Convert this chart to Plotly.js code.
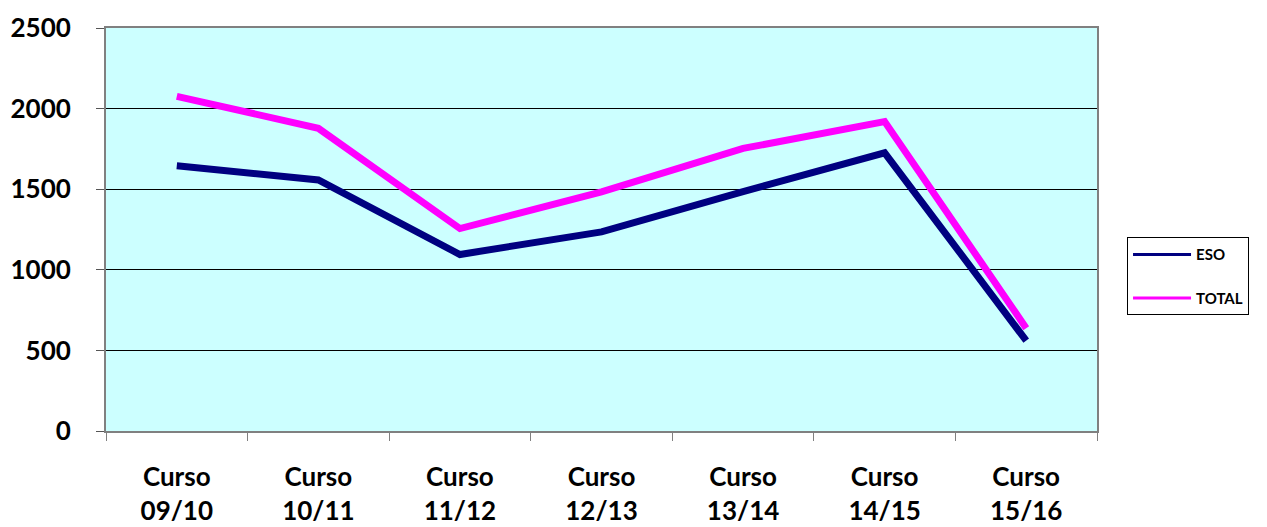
<!DOCTYPE html>
<html>
<head>
<meta charset="utf-8">
<script src="https://cdn.plot.ly/plotly-3.0.1.min.js"></script>
<style>html,body{margin:0;padding:0;background:#fff;}#chart{width:1267px;height:527px;}</style>
</head>
<body>
<div id="chart"></div>
<script>
var categories = ["Curso<br>09/10","Curso<br>10/11","Curso<br>11/12","Curso<br>12/13","Curso<br>13/14","Curso<br>14/15","Curso<br>15/16"];
var eso = [1645, 1557, 1095, 1235, 1485, 1726, 560];
var total = [2076, 1878, 1256, 1484, 1753, 1920, 638];
var yTicks = [0, 500, 1000, 1500, 2000, 2500];

var FONT = "Lato, 'Open Sans', sans-serif";
var traces = [
  {x: categories, y: eso, type: "scatter", mode: "lines", name: "ESO",
   line: {color: "#000080", width: 7}, showlegend: false, hoverinfo: "skip"},
  {x: categories, y: total, type: "scatter", mode: "lines", name: "TOTAL",
   line: {color: "#FF00FF", width: 7}, showlegend: false, hoverinfo: "skip"},
  {x: [categories[0]], y: [null], type: "scatter", mode: "lines", name: "ESO",
   line: {color: "#000080", width: 3}, legendgroup: "a"},
  {x: [categories[0]], y: [null], type: "scatter", mode: "lines", name: "TOTAL",
   line: {color: "#FF00FF", width: 3}, legendgroup: "b"}
];

var layout = {
  width: 1267, height: 527,
  margin: {l: 106, r: 170, t: 28, b: 96, pad: 0},
  paper_bgcolor: "#ffffff",
  plot_bgcolor: "#CCFFFF",
  font: {family: FONT, color: "#000"},
  showlegend: true,
  legend: {
    x: 1.0303, y: 0.481, xanchor: "left", yanchor: "top",
    bgcolor: "#ffffff", bordercolor: "#000000", borderwidth: 1,
    font: {family: FONT, size: 15, color: "#000", weight: "bold"},
    traceorder: "grouped", tracegroupgap: 21, itemwidth: 58
  },
  xaxis: {
    type: "category", range: [-0.5, 6.5],
    tickson: "boundaries", ticks: "outside", ticklen: 8, tickcolor: "#808080", tickwidth: 1,
    showgrid: false, showline: true, linecolor: "#808080", linewidth: 2, mirror: true,
    tickfont: {family: FONT, size: 26, color: "#000", weight: "bold"},
    ticklabelstandoff: 22, zeroline: false, fixedrange: true
  },
  yaxis: {
    range: [0, 2500], tickvals: yTicks, ticktext: yTicks.map(String),
    ticks: "outside", ticklen: 8, tickcolor: "#555", tickwidth: 1,
    showgrid: true, gridcolor: "#000000", gridwidth: 1,
    showline: true, linecolor: "#808080", linewidth: 2, mirror: true,
    tickfont: {family: FONT, size: 26, color: "#000", weight: "bold"},
    ticklabelstandoff: 20, zeroline: false, fixedrange: true
  }
};

Plotly.newPlot("chart", traces, layout, {displayModeBar: false, staticPlot: true});
</script>
</body>
</html>
